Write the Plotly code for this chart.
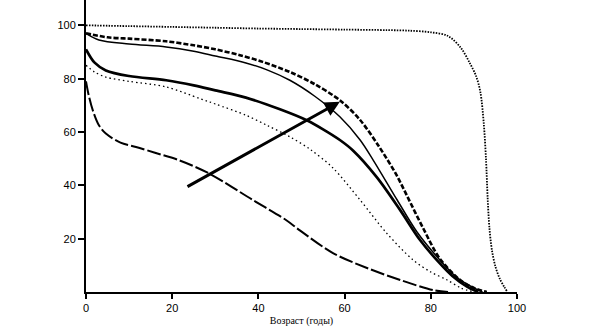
import plotly.graph_objects as go

# Survival curves: percentage surviving by age
age_a = [0, 10, 20, 30, 40, 50, 60, 70, 75, 80, 84, 87, 89, 90.5, 91.5, 92.3, 92.8, 93.2, 93.6, 94.2, 95, 96, 97, 97.8]
surv_a = [100, 99.7, 99.4, 99.1, 98.8, 98.6, 98.4, 98.2, 98.0, 97.4, 96, 91.5, 86, 81, 75, 63, 50, 35, 24, 15.5, 9.5, 5, 2, 0]

age_b = [0, 5, 10, 18.6, 25, 30, 35.7, 41, 47.3, 53, 58.9, 63.6, 68, 72, 74.5, 78.2, 82.1, 86.8, 90, 93]
surv_b = [97, 95.5, 95, 94, 92.5, 91, 88.8, 86.3, 82.5, 78, 71.9, 64.5, 54.5, 44, 36, 24, 12.5, 4.5, 1.5, 0]

age_c = [0, 3, 10, 18.6, 25, 30, 37.1, 42, 47.3, 53, 58.9, 63.6, 66.7, 72.2, 76.8, 82.1, 86, 90, 92]
surv_c = [97, 94.5, 93, 91.9, 90.3, 88.5, 85.9, 83.3, 79.4, 73.5, 65.7, 57, 49.3, 34.5, 22.5, 12, 5.5, 1.5, 0]

age_d = [0, 2, 4.6, 10, 18.6, 25, 30, 37.1, 45, 51.2, 55, 58.9, 62, 67.5, 72.9, 77.5, 82, 85, 88.4, 91]
surv_d = [91, 86, 83.1, 81, 79.4, 77.5, 75.6, 72.9, 68.5, 64.4, 61, 57, 53, 43, 30.7, 19.5, 10.9, 6, 2, 0]

age_e = [0, 2, 4.6, 10, 18.6, 26.5, 30, 37.1, 42, 47.3, 52, 57.3, 63.6, 69.8, 75.9, 80, 83.8, 87, 90]
surv_e = [85, 82.5, 80.6, 79, 76.9, 72.5, 70.5, 66.3, 62.5, 58.2, 53.5, 46.5, 34.5, 22, 12, 7.5, 4.5, 1.5, 0]

age_f = [0, 0.6, 1.6, 3, 4.6, 8, 11.6, 16, 21.6, 28.5, 38.7, 46.4, 49.7, 57.3, 65.2, 72.9, 80.5, 84]
surv_f = [79, 74, 68, 62.5, 59.4, 56, 54.4, 52.2, 49.4, 44.5, 34.5, 27, 23, 14.6, 9, 4.5, 0.7, 0]

arrow_tail = (23.2, 39.2)
arrow_head = (58.9, 71.3)

x_ticks = [0, 20, 40, 60, 80, 100]
y_ticks = [20, 40, 60, 80, 100]

series = [
    (age_a, surv_a, dict(width=1.8, dash="1.5px,1.3px")),
    (age_b, surv_b, dict(width=2.6, dash="5px,2px")),
    (age_c, surv_c, dict(width=1.5, dash="solid")),
    (age_d, surv_d, dict(width=2.7, dash="solid")),
    (age_e, surv_e, dict(width=1.3, dash="1.5px,3px")),
    (age_f, surv_f, dict(width=2.0, dash="14px,3px")),
]

fig = go.Figure()
for xs, ys, st in series:
    fig.add_trace(go.Scatter(
        x=xs, y=ys, mode="lines",
        line=dict(color="black", shape="spline", smoothing=0.9, **st),
        hoverinfo="skip", showlegend=False,
    ))

fig.add_annotation(
    x=arrow_head[0], y=arrow_head[1], ax=arrow_tail[0], ay=arrow_tail[1],
    xref="x", yref="y", axref="x", ayref="y",
    text="", showarrow=True, arrowhead=2, arrowsize=1, arrowwidth=3, arrowcolor="black",
)

tick_font = dict(family="Liberation Sans Narrow, Liberation Sans, Arial", size=11, color="black")

fig.update_layout(
    width=591, height=336,
    margin=dict(l=86, r=74, t=0, b=44),
    paper_bgcolor="white", plot_bgcolor="white",
    showlegend=False,
)
fig.update_xaxes(
    range=[0, 100], tickvals=x_ticks, ticktext=[str(v) for v in x_ticks],
    showline=True, linecolor="black", linewidth=2, showgrid=False, zeroline=False,
    ticks="outside", ticklen=5, tickwidth=1.5, tickcolor="black", tickfont=tick_font,
    title=dict(text="Возраст (годы)", font=dict(family="Liberation Serif, DejaVu Serif", size=10, color="black"), standoff=4),
)
fig.update_yaxes(
    range=[0, 109.5], tickvals=y_ticks, ticktext=[str(v) for v in y_ticks],
    showline=True, linecolor="black", linewidth=2, showgrid=False, zeroline=False,
    ticks="outside", ticklen=6, tickwidth=1.5, tickcolor="black", tickfont=tick_font,
)

fig.write_html("out.html")
